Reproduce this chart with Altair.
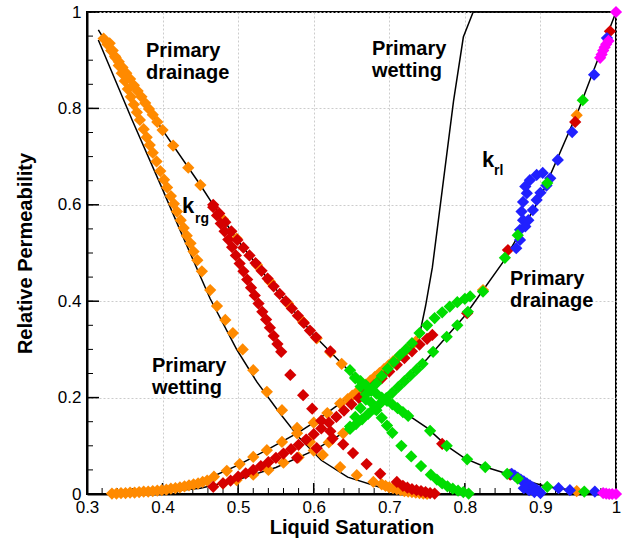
import altair as alt
import pandas as pd

# ---------------- black reference curves ----------------
krg_drain_x = [0.315, 0.33, 0.35, 0.40, 0.45, 0.467, 0.50, 0.55, 0.60, 0.65, 0.70, 0.75, 0.776, 0.80, 0.827, 0.856, 0.87, 0.909, 0.956, 1.0]
krg_drain_y = [0.963, 0.925, 0.878, 0.755, 0.641, 0.600, 0.525, 0.425, 0.330, 0.250, 0.190, 0.137, 0.100, 0.074, 0.056, 0.042, 0.032, 0.015, 0.005, 0.0]

krg_wet_x = [0.315, 0.36, 0.40, 0.423, 0.463, 0.498, 0.525, 0.555, 0.58, 0.61, 0.645, 0.70, 0.74]
krg_wet_y = [0.942, 0.775, 0.632, 0.548, 0.405, 0.300, 0.232, 0.168, 0.118, 0.07, 0.035, 0.008, 0.0]

krl_drain_x = [0.33, 0.40, 0.45, 0.50, 0.55, 0.60, 0.648, 0.70, 0.75, 0.80, 0.85, 0.90, 0.95, 1.0]
krl_drain_y = [0.0, 0.004, 0.012, 0.03, 0.055, 0.09, 0.135, 0.2, 0.28, 0.37, 0.48, 0.615, 0.795, 1.0]

krl_wet_x = [0.33, 0.40, 0.45, 0.50, 0.54, 0.58, 0.60, 0.65, 0.70, 0.74, 0.748, 0.757, 0.77, 0.785, 0.798, 0.811, 1.0]
krl_wet_y = [0.0, 0.008, 0.025, 0.06, 0.093, 0.128, 0.148, 0.205, 0.27, 0.33, 0.39, 0.47, 0.63, 0.815, 0.948, 1.0, 1.0]

# ---------------- orange simulation points ----------------
o_krg_up_x = [0.322, 0.327, 0.332, 0.337, 0.342, 0.347, 0.352, 0.357, 0.362, 0.367, 0.372, 0.377, 0.382, 0.387, 0.393, 0.400, 0.414, 0.434, 0.450, 0.480, 0.498, 0.525, 0.542, 0.566, 0.586, 0.604, 0.622, 0.637, 0.948]
o_krg_up_y = [0.945, 0.933, 0.920, 0.908, 0.897, 0.885, 0.873, 0.861, 0.848, 0.836, 0.824, 0.811, 0.799, 0.787, 0.772, 0.755, 0.723, 0.677, 0.641, 0.570, 0.530, 0.475, 0.441, 0.395, 0.357, 0.323, 0.294, 0.270, 0.006]

o_krg_lo_x = [0.330, 0.334, 0.338, 0.342, 0.346, 0.350, 0.354, 0.358, 0.362, 0.366,
              0.370, 0.375, 0.379, 0.383, 0.387, 0.392, 0.397, 0.402, 0.406, 0.411,
              0.415, 0.419, 0.424, 0.428, 0.432, 0.437, 0.441, 0.446,
              0.452, 0.463, 0.472, 0.483, 0.493, 0.506, 0.520, 0.538, 0.558, 0.578,
              0.595, 0.612, 0.635, 0.657, 0.679,
              0.690, 0.695, 0.700, 0.705, 0.710, 0.715, 0.720, 0.725, 0.730, 0.735, 0.740, 0.745, 0.750]
o_krg_lo_y = [0.935, 0.920, 0.905, 0.889, 0.873, 0.857, 0.840, 0.824, 0.808, 0.792,
              0.776, 0.757, 0.740, 0.724, 0.708, 0.690, 0.670, 0.652, 0.636, 0.618,
              0.602, 0.586, 0.568, 0.552, 0.536, 0.520, 0.503, 0.485,
              0.462, 0.423, 0.390, 0.361, 0.334, 0.300, 0.257, 0.212, 0.174, 0.137,
              0.108, 0.081, 0.056, 0.039, 0.025,
              0.020, 0.017, 0.014, 0.012, 0.010, 0.008, 0.006, 0.005, 0.004, 0.003, 0.002, 0.001, 0.000]

o_krl_x = [0.333, 0.339, 0.345, 0.351, 0.357, 0.363, 0.369, 0.375, 0.381, 0.387, 0.393, 0.399, 0.405, 0.411, 0.417, 0.423, 0.429, 0.435, 0.441, 0.447, 0.453, 0.459,
           0.468, 0.485, 0.502, 0.520, 0.538, 0.558, 0.578, 0.600, 0.618, 0.635,
           0.645, 0.651, 0.657, 0.663, 0.669, 0.675, 0.681, 0.687, 0.693, 0.699, 0.705, 0.711, 0.717, 0.723, 0.729, 0.735,
           0.480, 0.498, 0.520, 0.540, 0.560, 0.580, 0.600, 0.620, 0.639, 0.824, 0.948]
o_krl_y = [0.001, 0.001, 0.002, 0.002, 0.003, 0.003, 0.004, 0.005, 0.005, 0.006, 0.007, 0.008, 0.009, 0.011, 0.012, 0.014, 0.016, 0.018, 0.020, 0.022, 0.025, 0.028,
           0.036, 0.048, 0.062, 0.077, 0.091, 0.108, 0.126, 0.148, 0.168, 0.188,
           0.197, 0.204, 0.211, 0.219, 0.227, 0.235, 0.243, 0.251, 0.259, 0.267, 0.275, 0.283, 0.291, 0.299, 0.308, 0.316,
           0.022, 0.029, 0.040, 0.050, 0.065, 0.076, 0.090, 0.107, 0.126, 0.423, 0.786]

# ---------------- red simulation points ----------------
r_krg_up_x = [0.467, 0.475, 0.483, 0.491, 0.499, 0.507, 0.515, 0.523, 0.531, 0.539, 0.547, 0.555, 0.563, 0.571, 0.579, 0.587, 0.595, 0.603, 0.622, 0.770, 0.860]
r_krg_up_y = [0.600, 0.582, 0.564, 0.545, 0.527, 0.511, 0.495, 0.479, 0.463, 0.447, 0.431, 0.415, 0.400, 0.385, 0.370, 0.355, 0.339, 0.325, 0.296, 0.104, 0.040]

r_krg_lo_x = [0.467, 0.472, 0.477, 0.482, 0.487, 0.492, 0.497, 0.502, 0.507, 0.512, 0.517, 0.522, 0.527, 0.532, 0.537, 0.542, 0.547, 0.552, 0.557,
              0.569, 0.586, 0.598, 0.610, 0.622, 0.639, 0.652, 0.670, 0.688, 0.710,
              0.718, 0.724, 0.730, 0.736, 0.742, 0.748, 0.754, 0.760]
r_krg_lo_y = [0.595, 0.578, 0.561, 0.545, 0.528, 0.512, 0.495, 0.478, 0.462, 0.445, 0.428, 0.412, 0.395, 0.378, 0.362, 0.345, 0.328, 0.311, 0.295,
              0.247, 0.205, 0.177, 0.152, 0.130, 0.103, 0.085, 0.062, 0.042, 0.025,
              0.017, 0.013, 0.010, 0.008, 0.006, 0.004, 0.002, 0.001]

r_krl_x = [0.467, 0.48, 0.49, 0.50, 0.51, 0.52, 0.53, 0.54, 0.55, 0.56, 0.57, 0.58, 0.59, 0.60, 0.61, 0.62, 0.63, 0.64, 0.65, 0.66, 0.67, 0.68, 0.69, 0.70, 0.71, 0.72, 0.73, 0.74, 0.75, 0.757,
           0.578, 0.604, 0.625, 0.803, 0.857, 0.946, 0.992]
r_krl_y = [0.015, 0.022, 0.028, 0.036, 0.043, 0.050, 0.058, 0.066, 0.075, 0.084, 0.093, 0.102, 0.113, 0.124, 0.136, 0.148, 0.160, 0.173, 0.186, 0.199, 0.212, 0.226, 0.240, 0.254, 0.268, 0.282, 0.296, 0.310, 0.322, 0.330,
           0.075, 0.095, 0.115, 0.375, 0.506, 0.772, 0.960]

# ---------------- green simulation points ----------------
g_krg_x = [0.648, 0.655, 0.662, 0.669, 0.676, 0.683, 0.690, 0.697, 0.704, 0.716, 0.729, 0.742, 0.755, 0.763, 0.770, 0.777, 0.784, 0.791, 0.798, 0.805,
           0.655, 0.662, 0.669, 0.676, 0.683, 0.690, 0.697, 0.704, 0.711, 0.718, 0.725, 0.754, 0.776, 0.803, 0.827, 0.856, 0.870, 0.909, 0.958]
g_krg_y = [0.257, 0.240, 0.223, 0.207, 0.190, 0.174, 0.158, 0.142, 0.127, 0.100, 0.078, 0.058, 0.040, 0.030, 0.022, 0.016, 0.011, 0.007, 0.004, 0.001,
           0.242, 0.234, 0.226, 0.217, 0.208, 0.200, 0.193, 0.186, 0.178, 0.170, 0.162, 0.131, 0.100, 0.072, 0.056, 0.042, 0.032, 0.015, 0.005]

g_krl_x = [0.648, 0.655, 0.662, 0.669, 0.676, 0.683, 0.690, 0.698, 0.706, 0.714, 0.722, 0.730, 0.740, 0.750, 0.760, 0.770, 0.780, 0.790, 0.800, 0.807,
           0.648, 0.656, 0.664, 0.672, 0.680, 0.688, 0.696, 0.704, 0.712, 0.720, 0.728, 0.736, 0.744, 0.758, 0.776, 0.790, 0.804, 0.824, 0.853, 0.870, 0.909, 0.956]
g_krl_y = [0.140, 0.160, 0.178, 0.196, 0.214, 0.230, 0.245, 0.260, 0.274, 0.288, 0.300, 0.313, 0.334, 0.350, 0.365, 0.377, 0.389, 0.398, 0.405, 0.410,
           0.135, 0.145, 0.155, 0.166, 0.177, 0.188, 0.199, 0.210, 0.222, 0.234, 0.246, 0.258, 0.270, 0.295, 0.326, 0.350, 0.378, 0.420, 0.490, 0.537, 0.645, 0.817]

# ---------------- blue simulation points ----------------
b_x = [0.868, 0.873, 0.873, 0.877, 0.875, 0.877, 0.882, 0.880, 0.886, 0.895, 0.903, 0.913, 0.908, 0.900, 0.895, 0.890, 0.884, 0.880, 0.923, 0.942, 0.971, 0.988,
       0.862, 0.866, 0.870, 0.874, 0.878, 0.882, 0.886, 0.890, 0.894, 0.898, 0.900, 0.885, 0.892, 0.878, 0.924, 0.939, 0.972]
b_y = [0.510, 0.527, 0.548, 0.568, 0.586, 0.606, 0.624, 0.638, 0.651, 0.662, 0.666, 0.655, 0.640, 0.625, 0.610, 0.589, 0.568, 0.555, 0.693, 0.751, 0.870, 0.946,
       0.042, 0.038, 0.034, 0.030, 0.026, 0.022, 0.018, 0.014, 0.010, 0.006, 0.002, 0.008, 0.004, 0.012, 0.012, 0.008, 0.005]

# ---------------- magenta simulation points ----------------
m_x = [0.979, 0.981, 0.983, 0.985, 0.987, 0.990, 1.000, 0.983, 0.987, 0.991, 0.995, 1.000]
m_y = [0.905, 0.912, 0.920, 0.927, 0.933, 0.940, 1.000, 0.002, 0.001, 0.000, 0.000, 0.000]

# ---------------- axes ----------------
x_ticks = [0.3, 0.4, 0.5, 0.6, 0.7, 0.8, 0.9, 1.0]
y_ticks = [0.0, 0.2, 0.4, 0.6, 0.8, 1.0]
x_minor = [round(0.3 + 0.02 * i, 2) for i in range(36)]
y_minor = [round(0.05 * i, 2) for i in range(21)]

# ---------------- annotations ----------------
ann_text = ["Primary", "drainage", "Primary", "wetting", "Primary", "wetting", "Primary", "drainage", "k", "rg", "k", "rl"]
ann_x = [0.378, 0.378, 0.677, 0.677, 0.386, 0.386, 0.8597, 0.8597, 0.4257, 0.4429, 0.8227, 0.8386]
ann_y = [0.9066, 0.861, 0.9108, 0.8651, 0.2531, 0.2075, 0.4336, 0.388, 0.583, 0.5622, 0.6784, 0.6618]
ann_fs = [20, 20, 20, 20, 20, 20, 20, 20, 22, 14, 22, 14]

series_names = ["orange", "red", "blue", "green", "magenta"]
series_colors = ["#FF8A00", "#D50000", "#2020FF", "#00DD00", "#FF00FF"]

FONT = "Liberation Sans, Arial, Helvetica, sans-serif"


def frame(xs, ys, **extra):
    assert len(xs) == len(ys), (len(xs), len(ys))
    df = pd.DataFrame({"x": xs, "y": ys})
    for k, v in extra.items():
        df[k] = v
    return df


curves = pd.concat([
    frame(krg_drain_x, krg_drain_y, curve="krg_drain"),
    frame(krg_wet_x, krg_wet_y, curve="krg_wet"),
    frame(krl_drain_x, krl_drain_y, curve="krl_drain"),
    frame(krl_wet_x, krl_wet_y, curve="krl_wet"),
], ignore_index=True)
curves["ord"] = range(len(curves))

points = pd.concat([
    frame(o_krg_up_x, o_krg_up_y, c="orange"),
    frame(o_krg_lo_x, o_krg_lo_y, c="orange"),
    frame(o_krl_x, o_krl_y, c="orange"),
    frame(r_krg_up_x, r_krg_up_y, c="red"),
    frame(r_krg_lo_x, r_krg_lo_y, c="red"),
    frame(r_krl_x, r_krl_y, c="red"),
    frame(b_x, b_y, c="blue"),
    frame(g_krg_x, g_krg_y, c="green"),
    frame(g_krl_x, g_krl_y, c="green"),
    frame(m_x, m_y, c="magenta"),
], ignore_index=True)
points["ord"] = range(len(points))

ann = pd.DataFrame({"x": ann_x, "y": ann_y, "t": ann_text, "fs": ann_fs})

x_scale = alt.Scale(domain=[0.3, 1.0], nice=False, zero=False)
y_scale = alt.Scale(domain=[0.0, 1.0], nice=False, zero=False)

x_axis = alt.Axis(values=x_ticks, format="~g", grid=True, ticks=False, labelPadding=5,
                  titlePadding=2, labelFlush=False)
y_axis = alt.Axis(values=y_ticks, format="~g", grid=True, ticks=False, labelPadding=6,
                  titlePadding=22, labelFlush=False)


def X():
    return alt.X("x:Q", scale=x_scale, axis=x_axis, title="Liquid Saturation")


def Y():
    return alt.Y("y:Q", scale=y_scale, axis=y_axis, title="Relative Permeability")


lines = alt.Chart(curves).mark_line(color="black", strokeWidth=1.5).encode(
    x=X(), y=Y(), detail="curve:N", order="ord:Q")

pts = alt.Chart(points).mark_point(shape="diamond", filled=True, size=150, opacity=1, strokeWidth=0).encode(
    x=X(), y=Y(),
    color=alt.Color("c:N", scale=alt.Scale(domain=series_names, range=series_colors), legend=None),
    order="ord:Q")

xmaj = alt.Chart(pd.DataFrame({"x": x_ticks})).mark_rule(color="black", strokeWidth=1.5).encode(
    x=X(), y=alt.value(482), y2=alt.value(471))
xmin = alt.Chart(pd.DataFrame({"x": x_minor})).mark_rule(color="black", strokeWidth=1).encode(
    x=X(), y=alt.value(482), y2=alt.value(476))
ymaj = alt.Chart(pd.DataFrame({"y": y_ticks})).mark_rule(color="black", strokeWidth=1.5).encode(
    y=Y(), x=alt.value(0), x2=alt.value(12))
ymin = alt.Chart(pd.DataFrame({"y": y_minor})).mark_rule(color="black", strokeWidth=1).encode(
    y=Y(), x=alt.value(0), x2=alt.value(6))

texts = alt.Chart(ann).mark_text(align="left", baseline="alphabetic", fontWeight="bold",
                                 font=FONT, color="black").encode(
    x=X(), y=Y(), text="t:N", size=alt.Size("fs:Q", scale=None))

chart = alt.layer(xmin, xmaj, ymin, ymaj, lines, pts, texts).properties(
    width=529, height=482,
    autosize=alt.AutoSizeParams(type="none"),
    padding={"left": 87, "top": 12, "right": 17, "bottom": 47},
).configure_view(
    stroke="black", strokeWidth=2
).configure_axis(
    labelFont=FONT, titleFont=FONT, labelColor="black", titleColor="black",
    labelFontSize=17, titleFontSize=20, titleFontWeight="bold",
    domainColor="black", domainWidth=2,
    gridColor="#cccccc", gridDash=[2, 2], gridWidth=1,
)

chart.save("out.html", embed_options={"renderer": "svg", "actions": False})
